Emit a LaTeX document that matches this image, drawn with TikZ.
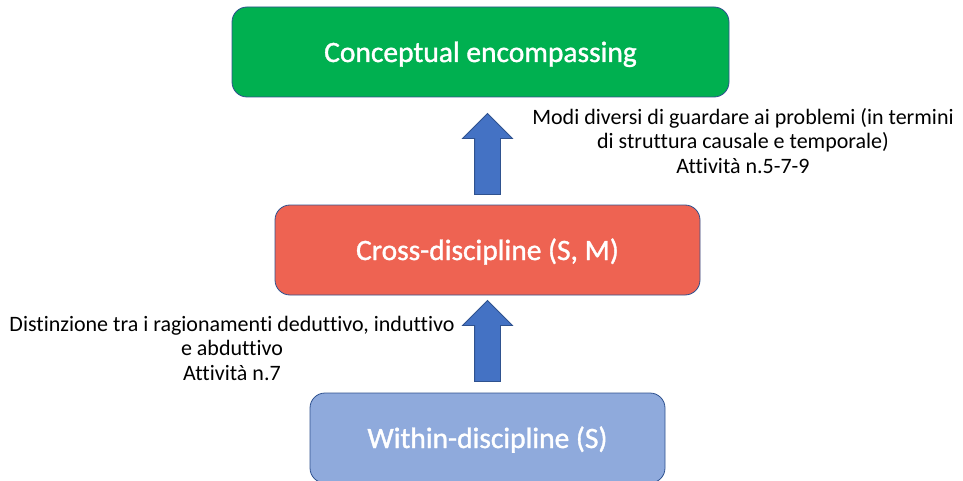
\documentclass[tikz,border=0pt]{standalone}
\usepackage{fontspec}
\setmainfont{Carlito}[Ligatures=NoCommon]
\newfontfamily\levelfont{Carlito}[Ligatures=NoCommon, FakeBold=1.2]
\usepackage{xcolor}
\usepackage{tikz}
\usetikzlibrary{shapes.arrows,calc}

\definecolor{levelgreen}{HTML}{00B050}
\definecolor{levelred}{HTML}{EE6352}
\definecolor{levelblue}{HTML}{8FAADC}
\definecolor{arrowblue}{HTML}{4472C4}
\definecolor{edgeblue}{HTML}{2F528F}

\begin{document}
\begin{tikzpicture}[x=1pt, y=1pt,
  level/.style={draw=edgeblue, line width=0.8pt, rounded corners=15pt, minimum height=90pt, text height=20pt, text depth=0pt, text=white, font=\levelfont\fontsize{29.5}{36}\selectfont},
  uparrow/.style={single arrow, draw=edgeblue, fill=arrowblue, line width=0.8pt, rotate=90, minimum height=81pt, inner sep=12.5pt, single arrow head extend=12pt},
  note/.style={align=center, font=\fontsize{22}{24.5}\selectfont}]
\useasboundingbox (0,0) rectangle (963,480);
% three levels
\node[level, fill=levelgreen, minimum width=497pt] (concept) at (480.5,428) {Conceptual encompassing};
\node[level, fill=levelred, minimum width=425pt] (cross) at (487.5,230) {Cross-discipline (S, M)};
\node[level, fill=levelblue, minimum width=355pt] (within) at (487.5,42) {Within-discipline (S)};
% block arrows between levels
\node[uparrow] (up1) at ($(cross.north)!0.5!(concept.south)+(3.5,-9.5)$) {};
\node[uparrow] (up2) at ($(within.north)!0.5!(cross.south)+(0,-3.5)$) {};
% notes
\node[note] (note1) at (743,339) {Modi diversi di guardare ai problemi (in termini\\di struttura causale e temporale)\\Attività n.5-7-9};
\node[note] (note2) at (232,132) {Distinzione tra i ragionamenti deduttivo, induttivo\\e abduttivo\\Attività n.7};
\end{tikzpicture}
\end{document}
